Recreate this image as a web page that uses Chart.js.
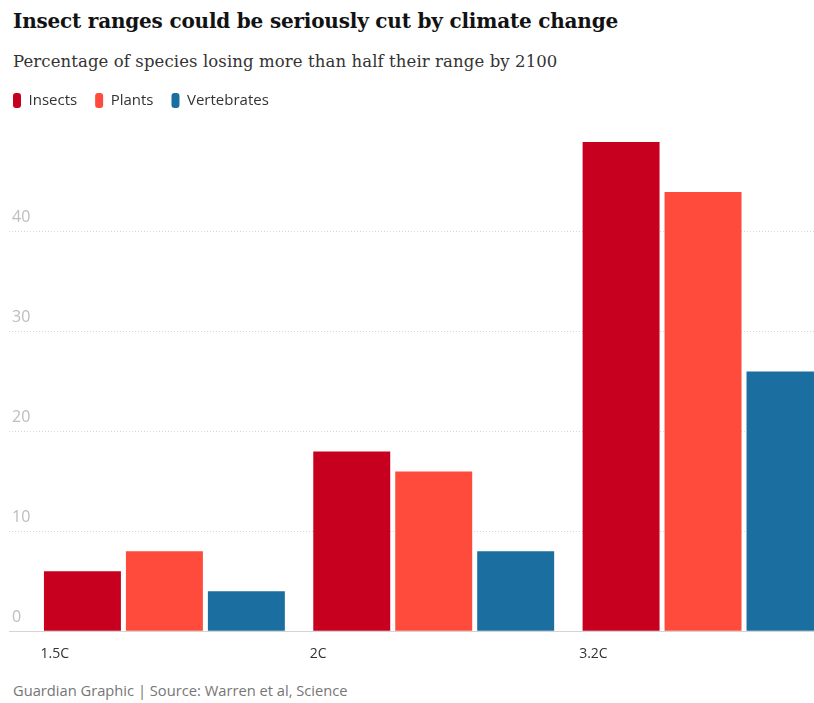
<!DOCTYPE html>
<html>
<head>
<meta charset="utf-8">
<script src="https://cdn.jsdelivr.net/npm/chart.js@4"></script>
<style>
  html, body { margin: 0; padding: 0; background: #fff; overflow: hidden; }
  body { width: 814px; height: 703px; position: relative; }
  .titulo {
    position: absolute; left: 13px; top: 9px;
    font: bold 20px "DejaVu Serif", serif; line-height: 24px;
    color: #121212; letter-spacing: -0.2px; white-space: nowrap;
  }
  .subtitulo {
    position: absolute; left: 13px; top: 52px;
    font: 16.5px "DejaVu Serif", serif; line-height: 20px;
    color: #333; letter-spacing: 0.1px; white-space: nowrap;
  }
  .grafico { position: absolute; left: -5px; top: 75px; width: 819px; height: 593px; }
  .fuente {
    position: absolute; left: 13px; top: 680px;
    font: 14.7px "Open Sans", sans-serif; line-height: 20px; color: #767676;
  }
</style>
</head>
<body>
<div class="titulo">Insect ranges could be seriously cut by climate change</div>
<div class="subtitulo">Percentage of species losing more than half their range by 2100</div>
<div class="grafico"><canvas id="chart-insectos"></canvas></div>
<div class="fuente">Guardian Graphic | Source: Warren et al, Science</div>

<script>
var categorias = ["1.5C", "2C", "3.2C"];
var insectos = [6, 18, 49];
var plantas = [8, 16, 44];
var vertebrados = [4, 8, 26];
var ticksY = [0, 10, 20, 30, 40];

// barras sobre eje lineal para poder recortar el último grupo como el original
function puntos(valores) {
    return valores.map(function (v, i) {
        return { x: i, y: v };
    });
}

// espacio extra bajo la leyenda
var espacioLeyenda = {
    id: "espacioLeyenda",
    beforeInit: function (chart) {
        var fitOriginal = chart.legend.fit;
        chart.legend.fit = function () {
            fitOriginal.bind(chart.legend)();
            this.height += 14;
        };
    },
};

var ctx = document.getElementById("chart-insectos");

new Chart(ctx, {
    type: "bar",
    data: {
        datasets: [
            { label: "Insects", data: puntos(insectos), backgroundColor: "#c8001f" },
            { label: "Plants", data: puntos(plantas), backgroundColor: "#fe4b3b" },
            { label: "Vertebrates", data: puntos(vertebrados), backgroundColor: "#1b6fa0" },
        ],
    },
    plugins: [espacioLeyenda],
    options: {
        responsive: true,
        maintainAspectRatio: false,
        animation: false,
        categoryPercentage: 0.913,
        barPercentage: 0.939,
        borderWidth: 0,
        layout: { padding: 0 },
        plugins: {
            tooltip: { enabled: false },
            legend: {
                position: "top",
                align: "start",
                labels: {
                    boxWidth: 8,
                    boxHeight: 15,
                    useBorderRadius: true,
                    borderRadius: 3,
                    padding: 18,
                    color: "#333",
                    font: { family: "Open Sans", size: 15 },
                },
            },
        },
        scales: {
            x: {
                type: "linear",
                offset: false,
                min: -0.577,
                max: 2.412,
                afterBuildTicks: function (scale) {
                    scale.ticks = categorias.map(function (c, i) {
                        return { value: i - 0.46 };
                    });
                },
                grid: { display: false, offset: false },
                border: { display: true, color: "#d4d4d4", width: 1 },
                ticks: {
                    align: "start",
                    padding: 6,
                    color: "#333",
                    font: { family: "Open Sans", size: 14 },
                    callback: function (value, index) {
                        return categorias[index];
                    },
                },
            },
            y: {
                min: 0,
                max: 50,
                afterBuildTicks: function (scale) {
                    scale.ticks = ticksY.map(function (v) {
                        return { value: v };
                    });
                },
                afterFit: function (scale) {
                    scale.width = 14;
                },
                grid: { color: "#d6d6d6", drawTicks: false },
                border: {
                    display: false,
                    dash: function (c) {
                        return c.tick && c.tick.value === 0 ? [] : [1, 2];
                    },
                },
                ticks: {
                    mirror: true,
                    padding: 3,
                    labelOffset: -14,
                    color: "#bdbdbd",
                    font: { family: "Open Sans", size: 16 },
                },
            },
        },
    },
});
</script>
</body>
</html>
